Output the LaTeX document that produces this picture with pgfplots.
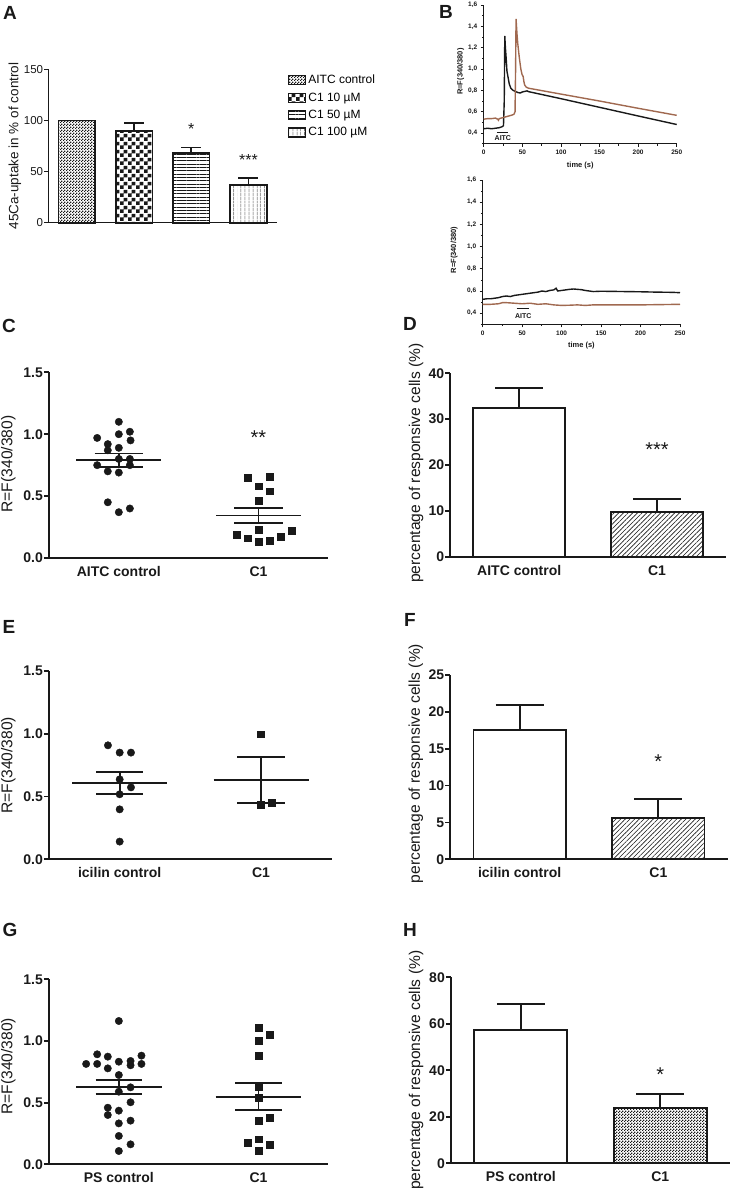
\documentclass[border=0pt]{standalone}
\usepackage{fontspec}
\setmainfont{Liberation Sans}
\usepackage{pgfplots}
\pgfplotsset{compat=1.18}
\usetikzlibrary{patterns,patterns.meta}

\definecolor{ink}{RGB}{25,25,25}
\definecolor{brownline}{RGB}{160,105,80}

\newcommand{\fs}[1]{\fontsize{#1}{#1}\selectfont}

% coarse checkerboard for the 10 uM bar
\pgfdeclarepatternformonly{bigchecker}{\pgfpointorigin}{\pgfqpoint{8pt}{8pt}}{\pgfqpoint{8pt}{8pt}}{%
  \pgfpathrectangle{\pgfpointorigin}{\pgfqpoint{4pt}{4pt}}%
  \pgfpathrectangle{\pgfqpoint{4pt}{4pt}}{\pgfqpoint{4pt}{4pt}}%
  \pgfusepath{fill}}
% fine checkerboard (grey look)
\pgfdeclarepatternformonly{finechecker}{\pgfpointorigin}{\pgfqpoint{3pt}{3pt}}{\pgfqpoint{3pt}{3pt}}{%
  \pgfpathrectangle{\pgfpointorigin}{\pgfqpoint{1.5pt}{1.5pt}}%
  \pgfpathrectangle{\pgfqpoint{1.5pt}{1.5pt}}{\pgfqpoint{1.5pt}{1.5pt}}%
  \pgfusepath{fill}}

\pgfplotsset{
  gp/.style={
    scale only axis, anchor=south west, clip=false,
    axis lines=left, axis line style={-, line width=1.8pt, ink},
    xmin=0.5, xmax=2.5, xtick={1,2}, xtick style={draw=none},
    tick align=outside, major tick length=5pt,
    ytick style={line width=1.8pt, ink},
    tick label style={font=\bfseries\fs{14}, text=ink},
    yticklabel style={inner xsep=1pt},
    ylabel style={font=\fs{15.6}, anchor=center, text=ink},
  },
  gpbar/.style={ybar, bar width=0.665, bar shift=0pt, draw=ink, line width=1.8pt,
    error bars/y dir=plus, error bars/y explicit, error bars/error mark=|,
    error bars/error bar style={line width=1.8pt, ink},
    error bars/error mark options={line width=1.8pt, mark size=24pt, ink}},
  abar/.style={ybar, bar width=0.64, bar shift=0pt, draw=ink, line width=1.7pt, pattern color=ink,
    legend image code/.code={\draw[##1,/tikz/.cd,line width=1.2pt] (0pt,-4.5pt) rectangle (17pt,4.5pt);},
    error bars/y dir=plus, error bars/y explicit, error bars/error mark=|,
    error bars/error bar style={line width=1.7pt, ink},
    error bars/error mark options={line width=1.7pt, mark size=10pt, ink}},
  mline/.style={ink, line width=1.8pt, forget plot},
  dots/.style={only marks, mark=*, mark size=3.7pt, ink},
  squares/.style={only marks, mark=square*, mark size=3.4pt, ink},
  bstyle/.style={scale only axis, anchor=south west, clip=false,
    xmin=0, xmax=250, ymin=0.3, ymax=1.6,
    axis lines=left, axis line style={-, line width=0.9pt, ink},
    tick align=outside, major tick length=3pt, minor tick length=1.8pt,
    tick style={line width=0.8pt, ink},
    xtick={0,50,100,150,200,250}, xticklabels={0,50,100,150,200,250},
    minor xtick={25,75,125,175,225},
    ytick={0.4,0.6,0.8,1.0,1.2,1.4,1.6},
    yticklabels={{0,4},{0,6},{0,8},{1,0},{1,2},{1,4},{1,6}},
    minor ytick={0.3,0.5,0.7,0.9,1.1,1.3,1.5},
    tick label style={font=\bfseries\fs{6.5}, text=ink},
    xlabel={time (s)}, ylabel={R=F(340/380)},
    xlabel style={font=\bfseries\fs{7.5}, text=ink},
    ylabel style={font=\bfseries\fs{7.5}, anchor=center, text=ink}},
}

\begin{document}
\begin{tikzpicture}
\path[use as bounding box] (0pt,0pt) rectangle (733pt,-1197pt);

% ---------------- A ----------------
\begin{axis}[scale only axis, anchor=south west, clip=false,
  at={(48.3pt,-222.7pt)}, width=228.7pt, height=153.4pt,
  xmin=0.5, xmax=4.5, ymin=0, ymax=150,
  xtick=\empty, ytick={0,50,100,150}, yticklabels={0,50,100,150},
  axis lines=left, axis line style={-, line width=1.3pt, ink},
  tick align=outside, major tick length=4pt, ytick style={line width=1.3pt, ink},
  tick label style={font=\fs{11.5}, text=ink}, yticklabel style={inner xsep=1pt},
  ylabel={45Ca-uptake in \% of control},
  ylabel style={at={(axis description cs:-0.146,0.5)}, anchor=center, font=\fs{13.5}, text=ink},
  legend style={draw=none, fill=none, at={(axis description cs:1.035,0.99)}, anchor=north west,
    font=\fs{12}, row sep=3.5pt, cells={anchor=west}}]
\addplot[pattern=finechecker, abar] coordinates {(1,100)};
\addlegendentry{AITC control}
\addplot[pattern=bigchecker, abar] coordinates {(2,89.7) +- (0,8.1)};
\addlegendentry{C1 10 µM}
\addplot[pattern={Lines[angle=0,distance=3.3pt,line width=0.6pt]}, abar] coordinates {(3,68.5) +- (0,4.9)};
\addlegendentry{C1 50 µM}
\addplot[pattern={Lines[angle=90,distance=4pt,line width=0.6pt]}, abar] coordinates {(4,36.6) +- (0,7.4)};
\addlegendentry{C1 100 µM}
\node[font=\fs{16}, anchor=base, text=ink] at (axis cs:3,86.5) {*};
\node[font=\fs{16}, anchor=base, text=ink] at (axis cs:4,55.5) {***};
\end{axis}

% ---------------- B (top) ----------------
\begin{axis}[bstyle, at={(483.8pt,-143.7pt)}, width=192.9pt, height=138.7pt,
  ylabel style={at={(axis description cs:-0.12,0.52)}}]
\addplot[ink, line width=1.4pt] coordinates {
 (0,0.44) (5,0.445) (10,0.44) (15,0.445) (20,0.45) (24,0.46) (25.5,0.47) (26.5,0.7)
 (27.2,1.31) (28,1.2) (29,1.1) (30,0.98) (31.5,0.92) (33,0.86) (35,0.82) (38,0.8)
 (41,0.79) (44,0.78) (47,0.775) (50,0.785) (53,0.79) (56,0.795) (58,0.788)
 (100,0.722) (150,0.641) (200,0.56) (250,0.48)};
\addplot[brownline, line width=1.4pt] coordinates {
 (0,0.53) (5,0.535) (10,0.535) (15,0.54) (18,0.53) (19,0.52) (20,0.535) (25,0.545)
 (30,0.555) (35,0.565) (39,0.575) (40.5,0.6) (41.2,1.0) (41.8,1.47) (43,1.33) (44,1.24)
 (45.5,1.14) (46.5,1.08) (48,1.0) (49.5,0.95) (51,0.93) (52,0.88) (53,0.85) (55,0.83)
 (58,0.82) (100,0.765) (150,0.70) (200,0.632) (250,0.566)};
\draw[ink, line width=1.4pt] (axis cs:17,0.406) -- (axis cs:31,0.406);
\node[font=\bfseries\fs{7}, text=ink] at (axis cs:24.7,0.353) {AITC};
\end{axis}

% ---------------- B (bottom) ----------------
\begin{axis}[bstyle, at={(482.7pt,-324.3pt)}, width=197.3pt, height=144.3pt,
  ylabel style={at={(axis description cs:-0.145,0.515)}}]
\addplot[ink, line width=1.4pt] coordinates {
 (0,0.525) (5,0.53) (10,0.53) (15,0.535) (20,0.54) (25,0.55) (30,0.555) (35,0.55)
 (40,0.56) (45,0.565) (50,0.57) (55,0.575) (60,0.58) (65,0.585) (70,0.59) (75,0.6)
 (80,0.595) (85,0.605) (90,0.61) (93,0.625) (95,0.6) (100,0.605) (105,0.61) (110,0.615)
 (115,0.618) (120,0.615) (125,0.612) (130,0.605) (135,0.6) (140,0.595) (150,0.598)
 (160,0.597) (180,0.595) (200,0.593) (220,0.59) (240,0.588) (250,0.585)};
\addplot[brownline, line width=1.4pt] coordinates {
 (0,0.48) (10,0.48) (20,0.485) (25,0.495) (30,0.495) (40,0.49) (50,0.485) (60,0.49)
 (70,0.48) (80,0.485) (90,0.475) (100,0.47) (110,0.472) (120,0.475) (130,0.47)
 (140,0.475) (160,0.475) (200,0.475) (250,0.48)};
\draw[ink, line width=1.4pt] (axis cs:43,0.445) -- (axis cs:59,0.445);
\node[font=\bfseries\fs{7}, text=ink] at (axis cs:51.3,0.373) {AITC};
\end{axis}

% ---------------- C ----------------
\begin{axis}[gp, at={(49pt,-558pt)}, width=279.3pt, height=185.7pt,
  ymin=0, ymax=1.5, ytick={0,0.5,1,1.5}, yticklabels={0.0,0.5,1.0,1.5},
  xticklabels={AITC control,C1}, ylabel={R=F(340/380)},
  ylabel style={at={(axis description cs:-0.146,0.506)}}]
\addplot[dots] coordinates {
 (1.0,1.10) (1.079,1.02) (1.0,1.00) (0.845,0.97) (1.084,0.95) (0.921,0.92) (1.0,0.89)
 (0.921,0.87) (1.0,0.80) (1.079,0.80) (0.845,0.75) (1.079,0.75) (0.921,0.70) (1.0,0.69)
 (0.921,0.45) (1.0,0.37) (1.079,0.40)};
\addplot[squares] coordinates {
 (1.921,0.65) (2.079,0.66) (2.0,0.58) (2.079,0.54) (2.0,0.46) (2.0,0.23) (1.842,0.19)
 (1.921,0.16) (2.0,0.13) (2.079,0.14) (2.16,0.17) (2.239,0.22)};
\addplot[mline] coordinates {(0.696,0.79) (1.304,0.79)};
\addplot[mline] coordinates {(0.827,0.844) (1.173,0.844)};
\addplot[mline] coordinates {(0.827,0.736) (1.173,0.736)};
\addplot[mline] coordinates {(1,0.736) (1,0.844)};
\addplot[mline] coordinates {(1.696,0.344) (2.304,0.344)};
\addplot[mline] coordinates {(1.827,0.406) (2.173,0.406)};
\addplot[mline] coordinates {(1.827,0.282) (2.173,0.282)};
\addplot[mline] coordinates {(2,0.282) (2,0.406)};
\node[font=\fs{20}, anchor=base, text=ink] at (axis cs:2,0.913) {**};
\end{axis}

% ---------------- D ----------------
\begin{axis}[gp, at={(450.3pt,-556.7pt)}, width=275.7pt, height=183.4pt,
  ymin=0, ymax=40, ytick={0,10,20,30,40}, yticklabels={0,10,20,30,40},
  xticklabels={AITC control,C1}, ylabel={percentage of responsive cells (\%)},
  ylabel style={at={(axis description cs:-0.124,0.51)}}]
\addplot[fill=white, gpbar] coordinates {(1,32.37) +- (0,4.36)};
\addplot[pattern={Lines[angle=45,distance=3.3pt,line width=0.6pt]}, pattern color=ink, gpbar]
  coordinates {(2,9.68) +- (0,2.84)};
\node[font=\fs{20}, anchor=base, text=ink] at (axis cs:2,21.9) {***};
\end{axis}

% ---------------- E ----------------
\begin{axis}[gp, at={(49pt,-859.3pt)}, width=282.7pt, height=188.3pt,
  ymin=0, ymax=1.5, ytick={0,0.5,1,1.5}, yticklabels={0.0,0.5,1.0,1.5},
  xticklabels={icilin control,C1}, ylabel={R=F(340/380)},
  ylabel style={at={(axis description cs:-0.144,0.5)}}]
\addplot[dots] coordinates {
 (0.917,0.908) (1.0,0.85) (1.08,0.85) (1.0,0.637) (1.08,0.573) (1.0,0.518)
 (1.0,0.398) (1.0,0.141)};
\addplot[squares] coordinates {(2.0,0.996) (2.0,0.438) (2.078,0.454)};
\addplot[mline] coordinates {(0.664,0.611) (1.336,0.611)};
\addplot[mline] coordinates {(0.833,0.698) (1.167,0.698)};
\addplot[mline] coordinates {(0.833,0.518) (1.167,0.518)};
\addplot[mline] coordinates {(1,0.518) (1,0.698)};
\addplot[mline] coordinates {(1.664,0.632) (2.336,0.632)};
\addplot[mline] coordinates {(1.833,0.812) (2.167,0.812)};
\addplot[mline] coordinates {(1.833,0.451) (2.167,0.451)};
\addplot[mline] coordinates {(2,0.451) (2,0.812)};
\end{axis}

% ---------------- F ----------------
\begin{axis}[gp, at={(450.3pt,-859.3pt)}, width=277.4pt, height=184.3pt,
  ymin=0, ymax=25, ytick={0,5,10,15,20,25}, yticklabels={0,5,10,15,20,25},
  xticklabels={icilin control,C1}, ylabel={percentage of responsive cells (\%)},
  ylabel style={at={(axis description cs:-0.124,0.52)}}]
\addplot[fill=white, gpbar] coordinates {(1,17.54) +- (0,3.36)};
\addplot[pattern={Lines[angle=45,distance=3.3pt,line width=0.6pt]}, pattern color=ink, gpbar]
  coordinates {(2,5.56) +- (0,2.67)};
\node[font=\fs{20}, anchor=base, text=ink] at (axis cs:2,12.36) {*};
\end{axis}

% ---------------- G ----------------
\begin{axis}[gp, at={(49pt,-1164.3pt)}, width=279.3pt, height=185pt,
  ymin=0, ymax=1.5, ytick={0,0.5,1,1.5}, yticklabels={0.0,0.5,1.0,1.5},
  xticklabels={PS control,C1}, ylabel={R=F(340/380)},
  ylabel style={at={(axis description cs:-0.146,0.53)}}]
\addplot[dots] coordinates {
 (1.0,1.162) (0.845,0.892) (0.921,0.873) (1.0,0.832) (1.084,0.838) (1.162,0.881)
 (0.766,0.814) (0.845,0.814) (1.084,0.803) (1.162,0.814) (0.921,0.778) (1.0,0.724)
 (1.0,0.589) (1.084,0.624) (1.084,0.503) (0.921,0.459) (1.0,0.435) (0.921,0.400)
 (1.0,0.332) (1.084,0.354) (1.0,0.230) (1.084,0.162) (1.0,0.108)};
\addplot[squares] coordinates {
 (2.0,1.108) (2.079,1.049) (2.0,1.003) (2.0,0.881) (2.0,0.630) (2.0,0.543)
 (2.079,0.378) (2.0,0.351) (1.921,0.178) (2.0,0.203) (2.079,0.157) (2.0,0.108)};
\addplot[mline] coordinates {(0.694,0.624) (1.306,0.624)};
\addplot[mline] coordinates {(0.833,0.684) (1.167,0.684)};
\addplot[mline] coordinates {(0.833,0.570) (1.167,0.570)};
\addplot[mline] coordinates {(1,0.570) (1,0.684)};
\addplot[mline] coordinates {(1.694,0.549) (2.306,0.549)};
\addplot[mline] coordinates {(1.833,0.662) (2.167,0.662)};
\addplot[mline] coordinates {(1.833,0.441) (2.167,0.441)};
\addplot[mline] coordinates {(2,0.441) (2,0.662)};
\end{axis}

% ---------------- H ----------------
\begin{axis}[gp, at={(451pt,-1163.3pt)}, width=279pt, height=186pt,
  ymin=0, ymax=80, ytick={0,20,40,60,80}, yticklabels={0,20,40,60,80},
  xticklabels={PS control,C1}, ylabel={percentage of responsive cells (\%)},
  ylabel style={at={(axis description cs:-0.125,0.5)}}]
\addplot[fill=white, gpbar] coordinates {(1,57.3) +- (0,11.2)};
\addplot[pattern=finechecker, pattern color=ink, gpbar] coordinates {(2,23.9) +- (0,5.8)};
\node[font=\fs{20}, anchor=base, text=ink] at (axis cs:2,35.2) {*};
\end{axis}

% panel letters
\begin{scope}[every node/.style={font=\bfseries\fs{19}, text=ink}]
\node at (10pt,-13pt) {A};
\node at (446pt,-11.5pt) {B};
\node at (9pt,-326pt) {C};
\node at (410pt,-324pt) {D};
\node at (9pt,-627pt) {E};
\node at (410pt,-620pt) {F};
\node at (10pt,-930pt) {G};
\node at (410pt,-930pt) {H};
\end{scope}
\end{tikzpicture}
\end{document}
